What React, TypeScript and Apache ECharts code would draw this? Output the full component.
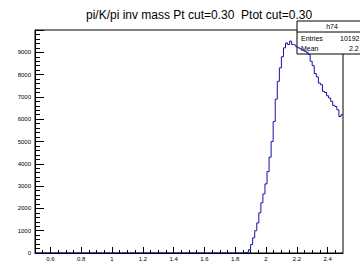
import React, { useEffect, useRef } from "react";
import * as echarts from "echarts";

const titleText = "pi/K/pi inv mass Pt cut=0.30  Ptot cut=0.30";
const histName = "h74";
const statsLabels = ["Entries", "Mean"];
const statsValues = ["10192", "2.2"];

const xMin = 0.5;
const xMax = 2.5;
const nBins = 150;
const firstFilledBin = 100;
// counts of bins 100..149 (all earlier bins are empty)
const counts = [
  0, 8, 20, 40, 150, 380, 680, 1000, 1350, 1800,
  2250, 2650, 3100, 3650, 4300, 5000, 5900, 6900, 7700, 8300,
  8800, 9200, 9420, 9350, 9500, 9350, 9320, 9250, 9200, 9150,
  9100, 9050, 9000, 8900, 8600, 8400, 8050, 7900, 7620, 7550,
  7250, 7200, 7050, 6950, 6800, 6620, 6570, 6420, 6120, 6200,
];

const xMajorTicks = [0.6, 0.8, 1.0, 1.2, 1.4, 1.6, 1.8, 2.0, 2.2, 2.4];
const xMinorTicks = [
  0.55, 0.65, 0.7, 0.75, 0.85, 0.9, 0.95, 1.05, 1.1, 1.15, 1.25, 1.3, 1.35,
  1.45, 1.5, 1.55, 1.65, 1.7, 1.75, 1.85, 1.9, 1.95, 2.05, 2.1, 2.15, 2.25,
  2.3, 2.35, 2.45,
];
const yMax = 10000;
const yInterval = 1000;

export default function App() {
  const ref = useRef<HTMLDivElement>(null);
  useEffect(() => {
    document.body.style.margin = "0";
    const chart = echarts.init(ref.current!, null, { renderer: "svg" });
    const bw = (xMax - xMin) / nBins;
    const data: number[][] = [[xMin, 0]];
    counts.forEach((c, k) => {
      data.push([xMin + (firstFilledBin + k) * bw, c]);
    });
    data.push([xMax, counts[counts.length - 1]]);

    const font = "Liberation Sans, Arial, sans-serif";
    const statText = (text: string, x: number, y: number, align = "left") => ({
      type: "text",
      x,
      y,
      style: { text, fontSize: 7, fontFamily: font, fill: "#000", align, verticalAlign: "middle" },
    });
    chart.setOption({
      animation: false,
      backgroundColor: "#ffffff",
      title: {
        text: titleText,
        left: 81,
        top: 4,
        textStyle: { fontSize: 12, fontWeight: "normal", color: "#000", fontFamily: font },
      },
      grid: {
        left: 35,
        right: 17,
        top: 30,
        bottom: 13,
        show: true,
        borderColor: "#000",
        borderWidth: 1,
        backgroundColor: "transparent",
      },
      xAxis: [
        {
          type: "value",
          min: xMin,
          max: xMax,
          axisLine: { show: true, lineStyle: { color: "#000", width: 1 } },
          axisTick: {
            show: true,
            inside: true,
            length: 6,
            customValues: xMajorTicks,
            lineStyle: { color: "#000" },
          },
          axisLabel: {
            show: true,
            customValues: xMajorTicks,
            fontSize: 6,
            margin: 3,
            color: "#000",
            fontFamily: font,
            formatter: (v: number) => String(Math.round(v * 10) / 10),
          },
          splitLine: { show: false },
        },
        {
          type: "value",
          min: xMin,
          max: xMax,
          position: "bottom",
          axisLine: { show: false },
          axisTick: {
            show: true,
            inside: true,
            length: 3,
            customValues: xMinorTicks,
            lineStyle: { color: "#000" },
          },
          axisLabel: { show: false },
          splitLine: { show: false },
        },
      ],
      yAxis: {
        type: "value",
        min: 0,
        max: yMax,
        interval: yInterval,
        axisLine: { show: true, lineStyle: { color: "#000", width: 1 } },
        axisTick: { show: true, inside: true, length: 9, lineStyle: { color: "#000" } },
        minorTick: { show: true, splitNumber: 5, length: 5, lineStyle: { color: "#000" } },
        axisLabel: {
          fontSize: 6,
          margin: 4,
          color: "#000",
          fontFamily: font,
          showMaxLabel: false,
          formatter: (v: number) => String(v),
        },
        splitLine: { show: false },
      },
      series: [
        {
          type: "line",
          step: "end",
          data,
          xAxisIndex: 0,
          showSymbol: false,
          symbol: "none",
          lineStyle: { color: "#1212a8", width: 1 },
          z: 2,
        },
      ],
      graphic: [
        {
          type: "group",
          z: 100,
          children: [
            {
              type: "rect",
              shape: { x: 297, y: 21, width: 80, height: 33 },
              style: { fill: "#fff", stroke: "#000", lineWidth: 1 },
            },
            {
              type: "line",
              shape: { x1: 297, y1: 32, x2: 377, y2: 32 },
              style: { stroke: "#000", lineWidth: 1 },
            },
            statText(histName, 332, 26.5, "center"),
            statText(statsLabels[0], 301, 38),
            statText(statsLabels[1], 301, 48),
            statText(statsValues[0], 340, 38),
            statText(statsValues[1], 349, 48),
          ],
        },
      ],
    });
    return () => chart.dispose();
  }, []);
  return <div ref={ref} style={{ width: 360, height: 266 }} />;
}
